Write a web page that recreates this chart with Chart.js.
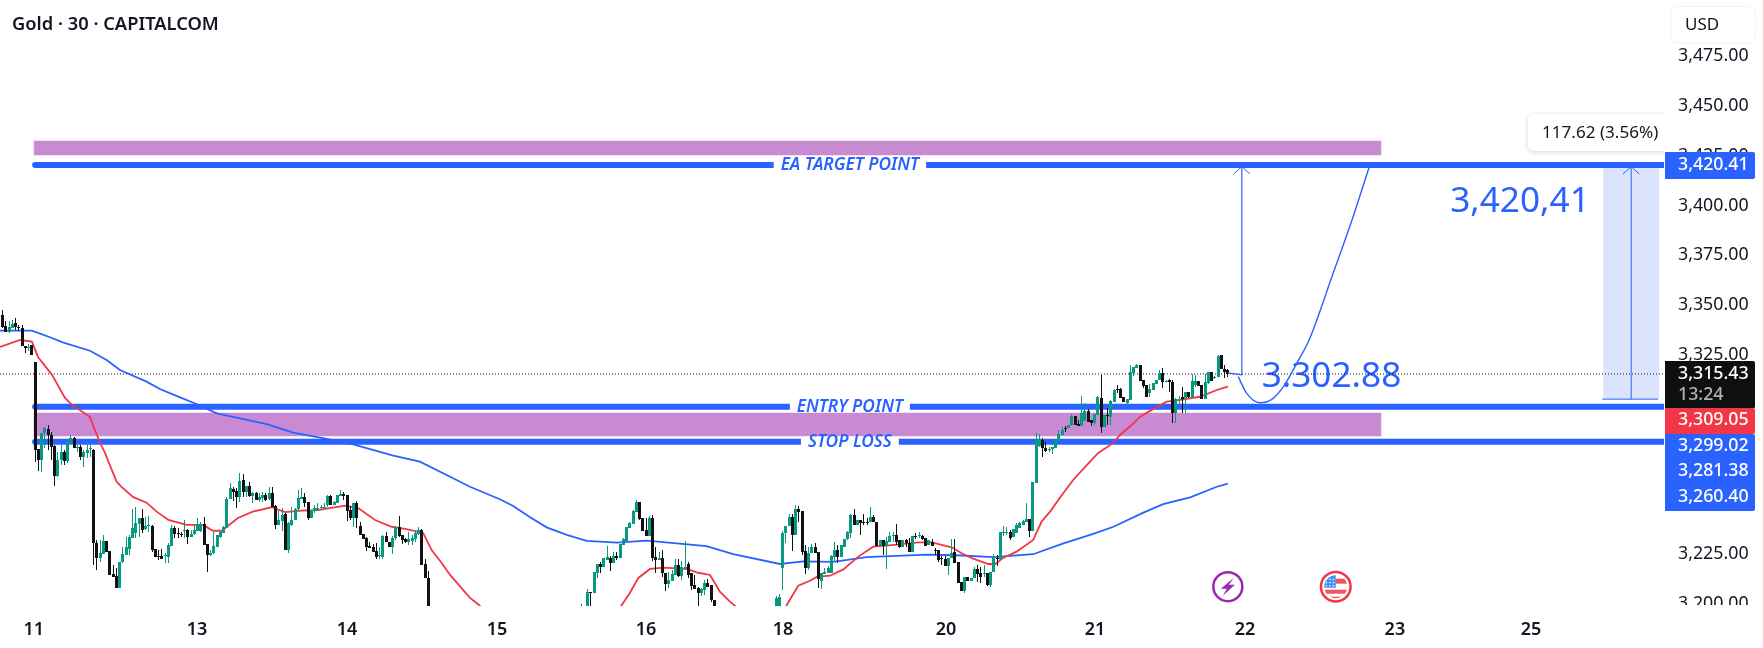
<!DOCTYPE html>
<html>
<head>
<meta charset="utf-8">
<title>Gold 30 CAPITALCOM</title>
<script src="https://cdn.jsdelivr.net/npm/chart.js@4"></script>
<style>
html,body{margin:0;padding:0;background:#fff;overflow:hidden}
canvas{display:block}
</style>
</head>
<body>
<canvas id="chart" width="1763" height="648"></canvas>
<script>
// 30-minute gold candles, [open, high, low, close], grouped by visible run.
const candlesRunOneStart = 0;
const candlesRunOne = [
[3345.1,3347.6,3338.5,3339.0],[3339.5,3342.1,3336.5,3336.5],[3336.5,3342.1,3336.0,3339.0],[3338.5,3342.6,3338.5,3340.6],
[3341.1,3343.6,3337.5,3339.0],[3339.0,3340.1,3337.0,3338.5],[3338.5,3340.1,3329.5,3329.5],[3329.5,3329.5,3326.0,3328.5],
[3328.5,3330.5,3327.0,3329.0],[3330.0,3330.0,3325.0,3325.0],[3321.5,3321.5,3271.2,3277.3],[3277.8,3277.8,3266.7,3272.2],
[3272.2,3285.8,3266.2,3285.8],[3285.8,3288.8,3278.3,3288.3],[3287.8,3289.8,3277.3,3284.8],[3284.8,3286.3,3272.2,3278.8],
[3279.3,3279.8,3259.2,3264.2],[3264.2,3276.3,3263.7,3272.2],[3272.2,3279.8,3269.7,3276.3],[3276.3,3277.3,3269.7,3271.7],
[3271.7,3281.8,3270.7,3281.3],[3280.8,3284.8,3280.3,3283.3],[3283.3,3283.8,3278.3,3278.3],[3278.4,3279.8,3276.3,3278.8],
[3278.8,3279.8,3272.2,3273.7],[3273.7,3277.3,3268.7,3276.3],[3275.8,3281.8,3273.2,3277.3],[3277.8,3280.8,3273.7,3278.2],
[3277.3,3277.8,3219.5,3230.6],[3230.6,3232.1,3217.0,3223.0],[3223.0,3232.1,3221.0,3225.5],[3225.0,3234.6,3225.0,3231.6],
[3231.6,3231.6,3226.0,3226.0],[3226.5,3226.5,3214.5,3214.5],[3215.0,3219.5,3213.5,3213.5],[3214.0,3218.0,3208.0,3208.0],
[3208.0,3221.0,3208.0,3221.0],[3221.0,3228.5,3220.5,3225.0],[3224.5,3233.6,3224.5,3228.5],[3227.5,3234.6,3224.5,3233.6],
[3233.1,3247.6,3233.1,3238.1],[3235.6,3248.6,3233.1,3240.6],[3240.1,3243.1,3233.6,3243.1],[3243.1,3247.6,3235.6,3237.1],
[3237.6,3243.6,3237.1,3239.1],[3239.3,3244.1,3236.1,3239.6],[3239.1,3239.6,3226.0,3227.0],[3227.5,3227.5,3223.5,3223.5],
[3224.0,3227.0,3222.0,3223.8],[3224.0,3227.5,3222.5,3222.5],[3223.8,3225.5,3220.5,3224.3],[3223.5,3230.6,3220.5,3229.5],
[3229.0,3239.6,3229.0,3238.1],[3238.1,3239.1,3233.1,3235.1],[3235.6,3238.1,3233.1,3235.3],[3235.1,3236.1,3233.6,3234.8],
[3236.8,3242.1,3233.1,3237.1],[3237.1,3237.6,3230.1,3233.6],[3233.6,3237.1,3233.6,3235.1],[3235.1,3239.6,3234.6,3237.1],
[3236.6,3243.1,3236.6,3239.6],[3236.6,3241.1,3236.1,3240.1],[3240.1,3243.6,3229.5,3229.5],[3230.0,3230.0,3216.0,3224.5],
[3224.5,3227.0,3224.0,3225.5],[3225.5,3236.1,3225.0,3229.0],[3228.5,3234.6,3228.5,3234.6],[3233.6,3236.6,3233.1,3236.1],
[3235.6,3239.1,3235.6,3238.6],[3238.1,3253.7,3238.1,3252.7],[3252.7,3260.7,3252.7,3258.2],[3257.7,3258.7,3251.6,3256.2],
[3256.7,3258.2,3248.1,3253.7],[3253.7,3265.7,3251.1,3261.7],[3262.2,3265.2,3253.7,3256.2],[3256.2,3259.2,3253.7,3259.2],
[3259.2,3261.2,3253.7,3254.2],[3254.2,3256.2,3250.6,3255.7],[3255.7,3256.2,3252.2,3252.2],[3252.2,3255.7,3251.1,3253.7],
[3253.2,3256.2,3251.1,3254.7],[3254.7,3255.7,3251.6,3252.2],[3252.7,3258.7,3252.2,3255.7],[3255.7,3258.7,3248.6,3248.6],
[3249.1,3249.6,3237.6,3239.6],[3239.6,3247.6,3239.6,3242.1],[3241.6,3248.1,3236.6,3244.6],[3245.1,3245.6,3227.0,3227.0],
[3227.0,3241.1,3225.5,3240.6],[3239.6,3248.6,3239.1,3242.1],[3242.1,3248.1,3242.1,3247.6],[3247.6,3257.2,3247.1,3253.2],
[3252.7,3258.2,3252.7,3253.7],[3253.7,3255.7,3248.6,3250.6],[3251.1,3251.1,3242.1,3243.1],[3243.1,3247.1,3243.1,3247.1],
[3246.6,3249.6,3245.6,3248.1],[3247.1,3250.6,3246.6,3248.1],[3247.9,3249.6,3247.1,3248.4],[3248.4,3250.6,3247.6,3248.6],
[3249.6,3254.7,3248.6,3254.2],[3254.2,3254.7,3249.6,3249.6],[3249.6,3251.6,3249.6,3251.1],[3250.6,3254.7,3250.6,3254.7],
[3254.2,3257.2,3254.2,3255.2],[3255.2,3256.2,3252.2,3254.2],[3254.7,3254.7,3241.6,3246.6],[3247.1,3249.1,3242.1,3243.1],
[3243.1,3250.6,3238.6,3250.6],[3250.6,3251.6,3238.1,3243.1],[3239.1,3241.1,3234.6,3234.6],[3235.1,3235.1,3232.6,3232.6],
[3233.1,3233.6,3226.5,3228.5],[3229.0,3231.1,3228.0,3228.0],[3228.5,3230.0,3226.0,3226.0],[3226.5,3230.6,3222.5,3223.5],
[3224.0,3228.5,3222.5,3224.3],[3223.5,3234.6,3222.5,3234.1],[3234.1,3236.1,3231.1,3231.1],[3231.1,3231.1,3228.5,3228.5],
[3228.5,3234.1,3225.0,3233.1],[3233.1,3239.1,3232.1,3238.6],[3238.6,3244.1,3233.6,3234.1],[3234.6,3234.6,3230.0,3232.1],
[3232.6,3233.1,3230.6,3231.1],[3231.1,3236.1,3229.5,3232.6],[3231.6,3234.6,3229.5,3233.1],[3232.6,3237.1,3231.1,3235.6],
[3235.1,3238.6,3234.6,3237.1],[3237.1,3237.6,3219.5,3219.5],[3220.0,3222.5,3213.0,3213.0],[3213.0,3216.5,3196.0,3196.0]
];
const candlesRunTwoStart = 178;
const candlesRunTwo = [
[3192.0,3199.9,3190.0,3196.0],[3192.0,3196.0,3190.0,3195.0],[3194.0,3207.5,3190.0,3205.9],[3205.9,3205.9,3190.0,3205.4],
[3205.4,3216.0,3205.4,3216.0],[3215.5,3220.0,3213.0,3220.0],[3220.0,3221.0,3215.5,3218.5],[3218.5,3223.0,3218.5,3223.0],
[3222.0,3229.0,3222.0,3223.5],[3223.0,3224.0,3216.5,3220.5],[3220.5,3226.0,3220.5,3224.0],[3224.0,3226.0,3222.0,3223.0],
[3223.0,3230.0,3223.0,3230.0],[3229.5,3233.1,3229.5,3232.6],[3231.6,3238.6,3231.6,3238.6],[3238.1,3241.1,3238.1,3240.6],
[3240.1,3247.1,3240.1,3246.6],[3246.1,3252.2,3246.1,3251.1],[3251.1,3251.1,3242.1,3242.6],[3243.1,3243.1,3236.6,3236.6],
[3237.1,3243.1,3234.1,3234.1],[3234.1,3244.1,3234.1,3243.1],[3243.1,3244.6,3221.5,3223.0],[3223.5,3228.5,3215.5,3222.0],
[3222.0,3226.0,3222.0,3223.0],[3223.0,3227.0,3213.5,3215.5],[3215.5,3215.5,3206.4,3210.0],[3210.0,3216.0,3208.0,3212.0],
[3211.5,3217.0,3211.5,3215.0],[3214.5,3222.5,3214.5,3219.5],[3219.5,3222.5,3213.5,3214.0],[3214.0,3221.5,3212.0,3218.5],
[3218.0,3231.6,3217.0,3218.5],[3220.0,3221.0,3213.0,3214.5],[3215.5,3215.5,3207.0,3209.0],[3209.5,3214.5,3207.5,3207.5],
[3208.0,3208.5,3199.0,3205.4],[3205.4,3208.0,3203.9,3207.5],[3207.0,3212.0,3204.4,3210.5],[3210.5,3212.5,3208.5,3208.5],
[3209.5,3209.5,3200.9,3201.9],[3201.9,3201.9,3196.9,3196.9]
];
const candlesRunThreeStart = 238;
const candlesRunThree = [
[3193.0,3203.9,3190.0,3202.9],[3193.0,3204.9,3190.0,3203.4],[3218.0,3236.6,3207.0,3235.6],[3235.6,3239.1,3230.6,3239.1],
[3239.1,3245.1,3239.1,3243.6],[3243.6,3245.1,3226.5,3234.6],[3234.6,3249.6,3234.6,3247.6],[3247.6,3249.1,3241.1,3246.1],
[3246.6,3246.6,3224.5,3226.0],[3226.5,3229.5,3215.0,3218.0],[3218.0,3228.5,3217.0,3225.5],[3225.5,3230.0,3225.5,3228.5],
[3228.5,3230.6,3225.5,3225.5],[3226.0,3226.0,3208.0,3212.5],[3211.5,3215.5,3207.5,3215.5],[3215.0,3218.0,3215.0,3216.0],
[3215.5,3219.0,3215.5,3218.0],[3215.5,3224.5,3215.5,3224.0],[3223.5,3231.1,3221.0,3227.0],[3227.0,3229.5,3220.5,3223.5],
[3223.5,3229.5,3223.5,3229.5],[3228.5,3232.6,3228.5,3232.6],[3232.6,3236.6,3232.1,3236.1],[3235.6,3245.1,3233.1,3244.6],
[3244.6,3247.6,3239.6,3239.6],[3239.6,3242.1,3239.6,3242.1],[3242.1,3242.1,3234.6,3240.6],[3241.1,3245.1,3239.6,3240.9],
[3241.1,3243.1,3239.6,3240.9],[3241.1,3248.6,3241.1,3243.6],[3243.6,3244.6,3241.1,3241.1],[3241.1,3241.1,3229.0,3229.0],
[3229.0,3232.1,3229.0,3232.1],[3232.1,3232.1,3224.5,3229.0],[3229.0,3233.6,3217.5,3231.6],[3231.1,3236.1,3231.1,3234.1],
[3234.1,3236.1,3231.1,3234.6],[3234.6,3240.1,3229.5,3231.1],[3232.1,3232.1,3228.0,3228.5],[3228.5,3232.1,3228.5,3232.1],
[3232.1,3232.6,3228.5,3230.6],[3230.6,3233.1,3226.0,3226.0],[3226.0,3234.1,3226.0,3234.1],[3234.1,3235.6,3232.6,3233.9],
[3234.3,3236.1,3233.1,3234.6],[3234.1,3234.6,3232.1,3232.6],[3233.1,3233.1,3229.0,3229.0],[3229.5,3232.1,3229.5,3232.1],
[3231.1,3232.6,3229.0,3229.0],[3227.0,3228.0,3224.5,3226.8],[3227.0,3227.0,3221.0,3222.0],[3223.0,3224.0,3219.5,3222.5],
[3222.5,3224.0,3219.0,3219.0],[3219.0,3223.0,3214.5,3223.0],[3223.0,3232.6,3223.0,3225.5],[3226.0,3232.6,3220.5,3220.5],
[3221.0,3221.0,3210.5,3210.5],[3211.0,3211.0,3206.4,3206.4],[3206.4,3213.5,3205.4,3213.5],[3213.5,3213.5,3211.5,3211.5],
[3211.5,3213.0,3211.5,3213.0],[3213.0,3218.5,3213.0,3217.5],[3217.5,3219.5,3211.0,3215.0],[3215.5,3218.5,3210.5,3213.5],
[3215.0,3219.5,3213.5,3215.5],[3215.5,3215.5,3209.0,3209.5],[3209.5,3216.0,3208.5,3216.0],[3216.0,3225.0,3216.0,3223.0],
[3223.0,3224.5,3219.0,3222.5],[3222.5,3236.1,3222.0,3236.1],[3235.6,3239.1,3234.1,3236.1],[3235.8,3238.6,3234.6,3236.1],
[3236.1,3237.1,3232.1,3233.1],[3233.6,3237.6,3233.6,3237.6],[3235.6,3240.6,3235.6,3239.6],[3238.1,3241.1,3238.1,3240.6],
[3239.6,3242.1,3239.6,3241.6],[3241.1,3250.6,3241.1,3242.6],[3242.6,3242.6,3233.6,3236.6],[3236.6,3261.2,3236.6,3261.2],
[3260.7,3285.8,3260.7,3282.3],[3279.3,3285.3,3278.8,3282.3],[3282.3,3283.3,3273.7,3278.3],[3278.3,3281.3,3276.3,3276.8],
[3277.3,3278.8,3276.3,3277.8],[3277.8,3278.8,3275.3,3278.8],[3278.3,3282.3,3278.3,3282.3],[3281.8,3287.3,3281.8,3285.3],
[3284.8,3288.8,3284.8,3287.3],[3288.3,3289.3,3286.3,3288.1],[3288.3,3289.8,3288.3,3289.8],[3289.8,3295.3,3289.3,3294.3],
[3294.3,3294.3,3289.8,3289.8],[3290.3,3292.3,3289.3,3289.3],[3289.3,3304.4,3289.3,3295.8],[3291.8,3300.9,3291.8,3296.9],
[3296.9,3297.9,3291.3,3291.3],[3292.3,3292.3,3289.3,3290.8],[3290.8,3295.3,3289.8,3295.3],[3294.8,3304.4,3294.8,3303.9],
[3303.4,3314.9,3285.8,3288.8],[3288.8,3294.8,3288.8,3294.8],[3294.8,3298.4,3289.8,3294.6],[3293.8,3302.4,3289.8,3301.9],
[3301.4,3307.9,3301.4,3307.4],[3307.9,3309.9,3305.9,3307.7],[3307.9,3308.4,3303.4,3303.4],[3303.9,3303.9,3301.4,3301.4],
[3300.9,3302.9,3298.9,3302.9],[3302.4,3320.0,3302.4,3316.4],[3315.9,3318.9,3314.4,3318.9],[3318.4,3320.5,3318.4,3320.0],
[3320.0,3320.0,3311.9,3311.9],[3312.4,3312.4,3308.4,3309.4],[3309.9,3309.9,3303.9,3303.9],[3305.9,3310.4,3303.9,3307.9],
[3307.4,3310.9,3307.4,3310.9],[3310.4,3312.4,3310.4,3312.4],[3312.4,3317.4,3312.4,3315.9],[3315.9,3318.4,3308.4,3311.4],
[3311.9,3312.4,3311.4,3312.1],[3312.4,3312.9,3306.4,3311.4],[3311.4,3312.4,3290.8,3295.8],[3295.8,3303.4,3290.8,3302.9],
[3302.4,3304.4,3299.9,3302.9],[3303.9,3308.9,3295.8,3302.9],[3303.4,3306.4,3295.8,3306.4],[3306.4,3306.4,3303.4,3303.9],
[3303.4,3315.4,3303.4,3311.9],[3309.9,3314.9,3308.9,3311.9],[3311.9,3311.9,3309.4,3309.4],[3309.9,3309.9,3302.9,3302.9],
[3302.9,3315.4,3302.9,3311.4],[3310.9,3316.4,3310.4,3316.4],[3316.4,3316.4,3311.9,3311.9],[3313.4,3314.4,3312.9,3313.9],
[3313.9,3325.0,3313.9,3324.5],[3325.0,3325.0,3318.0,3318.0],[3318.0,3320.0,3313.4,3316.4],[3317.4,3317.9,3313.9,3315.43]
];

// Short moving average, read at turning points: bar index and price, one list per stretch.
const redMaIndexOne = [-0.8,5.4,9,10.9,15.2,19.2,21,26.9,28.4,30,31.5,33,35.1,36.6,40.1,44.3,47.4,51,56.6,61.7,64.7,67.4,72.4,77,82.8,86.9,92,97,105.4,109.4,114.6,119.7,123.8,129.4,132,135.1,137.7,143.8,146.6,150];
const redMaPriceOne = [3329,3332.5,3331.7,3324,3315,3303.4,3300.4,3293.8,3287.3,3280.8,3275.8,3269.7,3261.3,3258.7,3253.7,3250.8,3246.3,3242.1,3239.6,3239.6,3236.7,3236.7,3243.1,3246.3,3248.5,3246.1,3246.8,3247.1,3249.3,3248.1,3242.1,3238.7,3237.6,3235.6,3227,3220.5,3214.5,3203,3199.4,3193];
const redMaIndexTwo = [188.4,190.5,193,195.6,199.2,203.3,210.5,214,217.7,220.7,223.8,225.3,227.5];
const redMaPriceTwo = [3193,3199.4,3205.4,3213,3217.5,3218.2,3217.5,3215.6,3214.5,3206.1,3201.1,3199.1,3196];
const redMaIndexThree = [239.2,241.3,244.8,248.4,250.5,254.6,258.7,263.3,267.9,273.6,281.8,285.9,292,295.1,298.2,303.3,305.4,307.8,312,317.1,319.7,322.3,326.4,329.4,333.6,337.1,341.8,343.8,347.4,350,354.1,358.2,362.3,368.4,373.6,377];
const redMaPriceThree = [3193,3199.4,3209.1,3211.6,3213.5,3214.1,3217.3,3223.7,3228.7,3229.5,3230.9,3230.9,3228.4,3225.4,3222.9,3220,3220,3223,3226.2,3232.1,3241.3,3246.3,3255.7,3262.2,3269.7,3275.8,3280.8,3284.8,3289.8,3294,3297.9,3301.5,3302.4,3304,3307.4,3309.05];

// Long moving average.
const blueMaIndex = [-0.8,9,14.6,18.7,26.9,32,36.1,44.3,48.4,54.6,58.7,65.9,81.3,89.4,99.7,107.9,120.2,128.4,137.7,143.8,153,157.1,162.3,167.4,173.6,179.7,189,198.2,216.6,224.8,239.2,246.4,255.6,265.9,284.3,293.6,304.8,317.1,326.4,335.6,341.8,351,357.1,365.4,373.6,377];
const blueMaPrice = [3337.2,3337.2,3333.9,3331.2,3327.1,3322.5,3317.4,3311.6,3307.9,3303.7,3301,3295.7,3290.3,3286,3282.8,3280.1,3274.4,3271.4,3263.8,3258.8,3252.5,3249.1,3243.5,3238.4,3234.6,3231.6,3230.7,3231.7,3229,3225,3220,3221.3,3221.1,3223.4,3224.7,3224.4,3223.4,3224.9,3230.4,3235.1,3238.7,3245.8,3250.1,3253.5,3258.8,3260.4];

// Price levels drawn by the analyst.
const levelNames = ['EA TARGET POINT','ENTRY POINT','STOP LOSS'];
const levelPrices = [3420.41,3299.02,3281.38];
const zoneUpper = [3432.5,3425.4];
const zoneLower = [3296,3284.3];
const lastPrice = 3315.43;
const measureFrom = 3302.79;
const measureTo = 3420.41;

// Projected path after the last candle.
const pathIndex = [380.2,382.8,386.9,390.5,394.1,398.2,402,409,415.2,420.7];
const pathPrice = [3314.1,3305.7,3301,3302.7,3309.1,3320.8,3332.5,3364.2,3392.8,3420.41];

// Axis ticks.
const dayTickIndex = [9.6,59.8,106,152.1,198,240.1,290.3,336.1,382.3,428.4,470.3];
const dayTickLabels = ['11','13','14','15','16','18','20','21','22','23','25'];
const priceTicks = [3200,3225,3250,3275,3300,3325,3350,3375,3400,3425,3450,3475];

const BLUE = '#2962ff', UP = '#089981', DOWN = '#121212', INK = '#131722';
const FONT = '"Noto Sans", sans-serif';
const indexMin = -0.8, indexMax = 511.2, priceMin = 3198.9, priceMax = 3503.28;
const zoneEnd = 424.1, zoneStart = 9.7;
const money = v => v.toLocaleString('en-US',{minimumFractionDigits:2,maximumFractionDigits:2});

const runs = [[candlesRunOneStart,candlesRunOne],[candlesRunTwoStart,candlesRunTwo],[candlesRunThreeStart,candlesRunThree]];
const candles = runs.flatMap(([start,list]) => list.map((c,i) => ({i:start+i,o:c[0],h:c[1],l:c[2],c:c[3]})));
const pairUp = (xs,ys) => xs.map((x,k) => ({x,y:ys[k]}));
const flat = (a,b,y) => [{x:a,y},{x:b,y}];

function lineSet(data,color,width,order,extra){
  return Object.assign({type:'line',data,borderColor:color,borderWidth:width,pointRadius:0,tension:0,fill:false,order},extra||{});
}

// Snap candle parts to whole pixels so bodies and wicks stay crisp.
const crispCandles = {
  id:'crispCandles',
  beforeDatasetsDraw(chart){
    chart.data.datasets.forEach((ds,k) => {
      if(ds.type!=='bar') return;
      chart.getDatasetMeta(k).data.forEach(el => {
        el.x = Math.floor(el.x)+0.5;
        const top = Math.round(Math.min(el.y,el.base));
        let bot = Math.round(Math.max(el.y,el.base));
        if(bot-top<1) bot = top+1;
        el.y = top; el.base = bot; el.height = bot-top;
      });
    });
  }
};

// Zones, measuring box and large hand-written figures sit behind the datasets.
const backdrop = {
  id:'backdrop',
  beforeDatasetsDraw(chart){
    const {ctx,scales:{x,y},chartArea:a} = chart;
    ctx.save();
    ctx.beginPath(); ctx.rect(a.left,a.top,a.width,a.height); ctx.clip();
    [zoneUpper,zoneLower].forEach(z => {
      const L = x.getPixelForValue(zoneStart), R = x.getPixelForValue(zoneEnd);
      const T = y.getPixelForValue(z[0]), B = y.getPixelForValue(z[1]);
      ctx.fillStyle = '#c88bd3';
      ctx.fillRect(L,T,R-L,B-T);
      ctx.strokeStyle = '#f1dff4';
      ctx.lineWidth = 1;
      ctx.strokeRect(Math.round(L)-.5,Math.round(T)-.5,Math.round(R-L)+1,Math.round(B-T)+1);
    });
    const mL = x.getPixelForValue(492.5), mR = x.getPixelForValue(509.7);
    const mT = y.getPixelForValue(measureTo), mB = y.getPixelForValue(measureFrom);
    ctx.fillStyle = '#dbe4fc';
    ctx.fillRect(mL,mT,mR-mL,mB-mT);
    ctx.fillStyle = BLUE;
    ctx.textBaseline = 'middle'; ctx.textAlign = 'left';
    ctx.font = '35.2px '+FONT;
    ctx.fillText('3,420,41',x.getPixelForValue(445.4),y.getPixelForValue(3402));
    ctx.fillText('3.302.88',x.getPixelForValue(387.4),y.getPixelForValue(3314));
    ctx.restore();
  }
};

// Names printed into gaps along the level lines.
const levelLabels = {
  id:'levelLabels',
  afterDatasetsDraw(chart){
    const {ctx,scales:{x,y}} = chart;
    ctx.save();
    ctx.font = 'italic 600 17.3px '+FONT;
    ctx.textAlign = 'center'; ctx.textBaseline = 'middle';
    levelNames.forEach((name,k) => {
      const cx = x.getPixelForValue(260.7), cy = y.getPixelForValue(levelPrices[k]);
      const w = ctx.measureText(name).width+14;
      ctx.fillStyle = '#fff';
      ctx.fillRect(cx-w/2,cy-5,w,10);
      ctx.fillStyle = BLUE;
      ctx.fillText(name,cx,cy+0.5);
    });
    // Event badges beneath the chart.
    const by = 586.7;
    const bx = x.getPixelForValue(377);
    ctx.strokeStyle = '#9c27b0'; ctx.lineWidth = 2.5;
    ctx.beginPath(); ctx.arc(bx,by,14.5,0,Math.PI*2); ctx.stroke();
    ctx.fillStyle = '#9c27b0';
    ctx.beginPath();
    [[6,-9],[-7,2],[-1,2],[-5,9],[7,-2],[1,-2]].forEach((p,n) => n?ctx.lineTo(bx+p[0],by+p[1]):ctx.moveTo(bx+p[0],by+p[1]));
    ctx.closePath(); ctx.fill();
    const fx = x.getPixelForValue(410.2);
    ctx.strokeStyle = '#f23645';
    ctx.beginPath(); ctx.arc(fx,by,14.8,0,Math.PI*2); ctx.stroke();
    ctx.save();
    ctx.beginPath(); ctx.arc(fx,by,11.5,0,Math.PI*2); ctx.clip();
    ctx.fillStyle = '#fff'; ctx.fillRect(fx-13,by-13,26,26);
    ctx.fillStyle = '#f0565f';
    ctx.fillRect(fx,by-8,13,5); ctx.fillRect(fx-13,by+3,26,4); ctx.fillRect(fx-13,by+10,26,4);
    ctx.fillStyle = '#3f8ef0'; ctx.fillRect(fx-13,by-13,13,14);
    ctx.fillStyle = '#fff';
    for(let r=0;r<3;r++) for(let c=0;c<3;c++) ctx.fillRect(fx-10+c*3.5,by-8+r*3.2,1.4,1.4);
    ctx.restore();
    ctx.restore();
  }
};

// Price-axis tags, the title, the currency button and the measuring note.
const chrome = {
  id:'chrome',
  afterDraw(chart){
    const {ctx} = chart;
    ctx.save();
    ctx.fillStyle = '#fff';
    ctx.fillRect(1665,605,98,12);

    ctx.save();
    ctx.beginPath(); ctx.rect(0,0,1664,648); ctx.clip();
    ctx.shadowColor = 'rgba(0,0,0,.18)'; ctx.shadowBlur = 5; ctx.shadowOffsetY = 1;
    ctx.fillStyle = '#fff';
    ctx.beginPath(); ctx.roundRect(1528,114,145,37,5); ctx.fill();
    ctx.restore();
    ctx.fillStyle = INK;
    ctx.font = '17.1px '+FONT; ctx.textAlign = 'left'; ctx.textBaseline = 'middle';
    ctx.fillText('117.62 (3.56%)',1542,133);

    const tag = (top,h,color,text,cy,textColor) => {
      ctx.fillStyle = color;
      ctx.beginPath(); ctx.roundRect(1665,top,90,h,[0,2,2,0]); ctx.fill();
      ctx.fillStyle = textColor||'#fff';
      ctx.font = '500 17.8px '+FONT;
      ctx.fillText(text,1678,cy);
    };
    tag(152,27,BLUE,money(levelPrices[0]),164.5);
    tag(361,47.5,'#0f0f0f',money(lastPrice),373.5);
    ctx.fillStyle = '#b2b2b2'; ctx.fillText('13:24',1678,394.5);
    tag(408,26,'#f23645',money(3309.05),420);
    tag(434,77,BLUE,money(levelPrices[1]),445.5);
    ctx.fillStyle = '#fff';
    ctx.fillText(money(levelPrices[2]),1678,470.5);
    ctx.fillText(money(blueMaPrice[blueMaPrice.length-1]),1678,496.5);

    ctx.fillStyle = '#fff'; ctx.strokeStyle = '#f0f3fa'; ctx.lineWidth = 1;
    ctx.beginPath(); ctx.roundRect(1670.5,6.5,85,36.5,6); ctx.fill(); ctx.stroke();
    ctx.fillStyle = INK;
    ctx.font = '17px '+FONT;
    ctx.fillText('USD',1685,25);

    ctx.font = '600 18.3px '+FONT;
    ctx.fillText('Gold · 30 · CAPITALCOM',12,24.5);
    ctx.restore();
  }
};

const arrowA = 381.3, arrowB = 501.1;
const datasets = [
  {type:'bar',data:candles.map(d => ({x:d.i,y:[d.o,d.c]})),backgroundColor:candles.map(d => d.c>=d.o?UP:DOWN),barThickness:3,grouped:false,borderWidth:0,order:2,inflateAmount:0},
  {type:'bar',data:candles.map(d => ({x:d.i,y:[d.l,d.h]})),backgroundColor:candles.map(d => d.c>=d.o?UP:DOWN),barThickness:1,grouped:false,borderWidth:0,order:3,inflateAmount:0},
  lineSet(pairUp(redMaIndexOne,redMaPriceOne),'#f23645',1.8,4),
  lineSet(pairUp(redMaIndexTwo,redMaPriceTwo),'#f23645',1.8,4),
  lineSet(pairUp(redMaIndexThree,redMaPriceThree),'#f23645',1.8,4),
  lineSet(pairUp(blueMaIndex,blueMaPrice),BLUE,1.8,5),
  ...levelPrices.map(p => lineSet(flat(zoneStart+0.3,indexMax,p),BLUE,6,6,{borderCapStyle:'round'})),
  lineSet(flat(indexMin,indexMax,lastPrice),INK,1,7,{borderDash:[1,2]}),
  lineSet(pairUp(pathIndex,pathPrice),BLUE,1.4,1,{cubicInterpolationMode:'monotone'}),
  // Upright arrow from the last candle to the target.
  lineSet([{x:377,y:3316},{x:arrowA,y:3315},{x:arrowA,y:levelPrices[0]}],BLUE,1.2,1),
  lineSet([{x:arrowA-2.5,y:3415.9},{x:arrowA,y:3419.6},{x:arrowA+2.5,y:3415.9}],BLUE,1,1),
  // Measuring arrow on the right.
  lineSet([{x:arrowB,y:measureFrom},{x:arrowB,y:measureTo}],BLUE,1,1),
  lineSet([{x:arrowB-2.5,y:3415.9},{x:arrowB,y:3419.6},{x:arrowB+2.5,y:3415.9}],BLUE,1,1),
  lineSet(flat(492.2,509.4,measureFrom),BLUE,1,1)
];

new Chart(document.getElementById('chart').getContext('2d'),{
  data:{datasets},
  plugins:[crispCandles,backdrop,levelLabels,chrome],
  options:{
    responsive:false,animation:false,devicePixelRatio:1,
    events:[],
    layout:{padding:0},
    plugins:{legend:{display:false},tooltip:{enabled:false}},
    scales:{
      x:{
        type:'linear',min:indexMin,max:indexMax,offset:false,
        grid:{display:false,drawTicks:false},border:{display:false},
        afterFit(s){s.height=42;s.paddingLeft=0;s.paddingRight=0;},
        afterBuildTicks(s){s.ticks=dayTickIndex.map(value => ({value}));},
        ticks:{
          autoSkip:false,maxRotation:0,padding:13,color:INK,
          font:{family:FONT,size:18,weight:'600'},
          callback(v){return dayTickLabels[dayTickIndex.indexOf(v)];}
        }
      },
      y:{
        type:'linear',position:'right',min:priceMin,max:priceMax,
        grid:{display:false,drawTicks:false},border:{display:false},
        afterFit(s){s.width=99;s.paddingTop=0;s.paddingBottom=0;},
        afterBuildTicks(s){s.ticks=priceTicks.map(value => ({value}));},
        ticks:{
          autoSkip:false,padding:14,color:INK,
          font:{family:FONT,size:17.8},
          callback(v){return money(v);}
        }
      }
    }
  }
});
</script>
</body>
</html>
